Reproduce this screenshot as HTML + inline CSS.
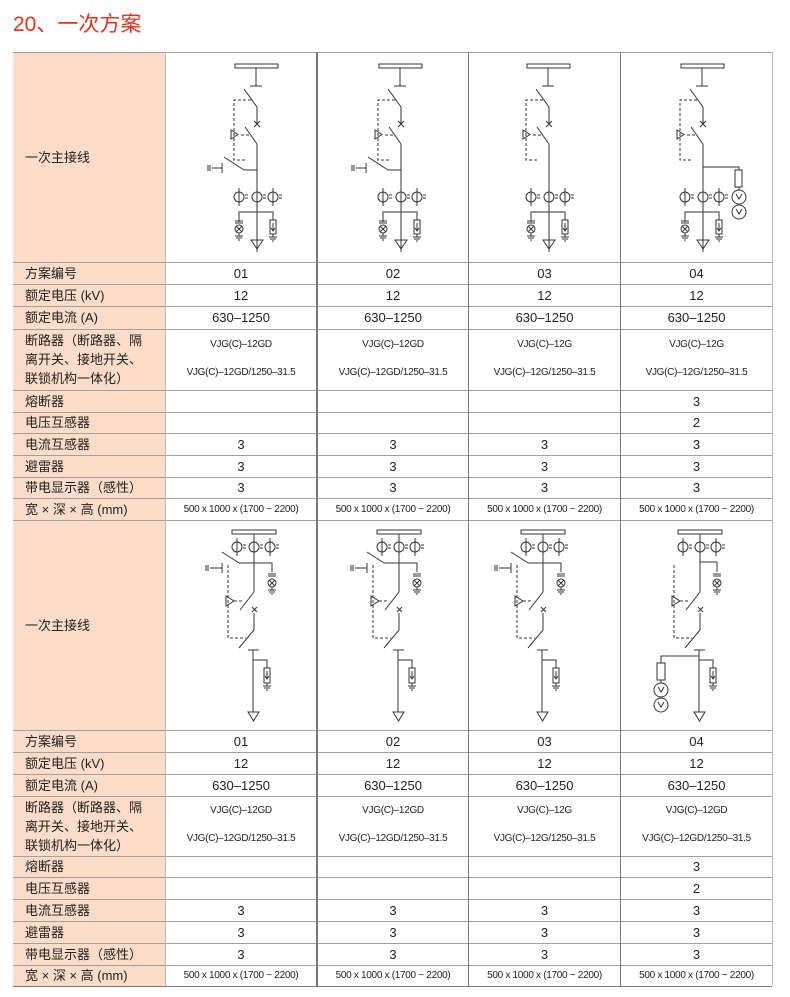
<!DOCTYPE html>
<html><head><meta charset="utf-8"><style>
body{margin:0;width:790px;height:997px;background:#fff;position:relative;overflow:hidden;font-family:"Liberation Sans","Noto Sans CJK SC",sans-serif;color:#222}
.t{position:absolute;left:13px;top:8px;font-size:21px;color:#e0321c;font-family:"Liberation Sans","Noto Sans CJK SC",sans-serif}
.lc{position:absolute;left:13px;width:152px;background:#fbdcc8}
.c{position:absolute;font-size:13px;display:flex;align-items:center;justify-content:center;text-align:center}
.l{position:absolute;left:25px;font-size:13px;display:flex;align-items:center;line-height:19px}
.h{position:absolute;left:13px;width:759px;height:1px;background:#a0a0a0}
.hw{position:absolute;left:13px;width:152px;height:1px;background:#fff}
.v{position:absolute;width:1px;background:#777}
.s{font-size:10px;letter-spacing:-0.3px}
</style></head><body>
<div class="t">20、一次方案</div>
<div class="lc" style="top:53px;height:933px"></div>
<svg width="790" height="997" style="position:absolute;left:0;top:0" fill="none" stroke="#333" stroke-width="1">
<defs>
<g id="top">
<rect x="-21" y="12" width="43" height="4" fill="#fff"/>
<line x1="0" y1="16" x2="0" y2="34"/><line x1="-6" y1="34" x2="6" y2="34"/>
<line x1="-12" y1="37" x2="1" y2="55"/><line x1="1" y1="55" x2="1" y2="72"/>
<path d="M-2 69l6 6M4 69l-6 6"/>
<line x1="-11" y1="75" x2="1" y2="92"/><line x1="1" y1="92" x2="1" y2="200"/>
<circle cx="-17" cy="145" r="5"/><circle cx="1" cy="145" r="5"/><circle cx="17" cy="145" r="5"/>
<line x1="-17" y1="136" x2="-17" y2="154"/><line x1="17" y1="136" x2="17" y2="154"/>
<path d="M-11 143h3M-11 146h3M7 143h3M7 146h3M23 143h3M23 146h3"/>
<path d="M-17 170v-10h34v8"/>
<line x1="-21" y1="169" x2="-13" y2="169"/><line x1="-21" y1="171" x2="-13" y2="171"/>
<circle cx="-17" cy="177" r="4"/><path d="M-20 174l6 6M-14 174l-6 6M-17 181v3M-21 184h8M-20 186h6M-18 188h2"/>
<rect x="14" y="168" width="6" height="14"/><path d="M17 171v8M15 176l2 3 2-3M17 182v3M13 185h8M14 187h6M16 189h2"/>
<path d="M-5 188h12l-6 9z"/>
</g>
<g id="dash" stroke-dasharray="3 2">
<path d="M-5 48h-17v60h12M-15 83h9"/>
</g>
<g id="tri"><path d="M-25 78v9l7-4.5z"/></g>
<g id="es">
<line x1="-32" y1="105" x2="-12" y2="118"/><line x1="-12" y1="118" x2="1" y2="118"/>
<path d="M-48 113v6M-46 113v6M-44 116h10M-34 111v10"/>
</g>
<g id="bot">
<rect x="-22" y="10" width="44" height="4" fill="#fff"/>
<line x1="0" y1="14" x2="0" y2="72"/>
<circle cx="-17" cy="27" r="5"/><circle cx="0" cy="27" r="5"/><circle cx="16" cy="27" r="5"/>
<line x1="-17" y1="18" x2="-17" y2="36"/><line x1="16" y1="18" x2="16" y2="36"/>
<path d="M-11 25h3M-11 28h3M6 25h3M6 28h3M22 25h3M22 28h3"/>
<line x1="0" y1="72" x2="-14" y2="90"/>
<path d="M-2 87l5 5M3 87l-5 5"/>
<line x1="0" y1="93" x2="0" y2="110"/><line x1="0" y1="110" x2="-15" y2="128"/>
<path d="M-6 130h11M-1 130v62"/>
<path d="M-1 140h14v8"/><rect x="10" y="148" width="6" height="15"/><path d="M13 151v8M11 156l2 3 2-3M13 163v3M9 166h8M10 168h6M12 170h2"/>
<path d="M-6 192h11l-5.5 9z"/>
<path d="M-10 140" />
<g stroke-dasharray="3 2"><path d="M-26 45v73h18M-20 81h10"/></g>
<path d="M-28 76v10l8-5z"/>
</g>
<g id="bes">
<line x1="-32" y1="32" x2="-15" y2="43"/><path d="M-15 43h33v9"/>
<path d="M14 54h8M14 56h8"/><circle cx="18" cy="63" r="4"/><path d="M15 60l6 6M21 60l-6 6M18 67v3M14 70h8M15 72h6M17 74h2"/>
<path d="M-48 45v6M-46 45v6M-44 48h12M-32 43v10"/>
</g>
</defs>
<!-- top diagrams -->
<g transform="translate(256,52)"><use href="#top"/><use href="#dash"/><use href="#tri"/><use href="#es"/></g>
<g transform="translate(400,52)"><use href="#top"/><use href="#dash"/><use href="#tri"/><use href="#es"/></g>
<g transform="translate(548,52)"><use href="#top"/><use href="#dash"/><use href="#tri"/></g>
<g transform="translate(702,52)"><use href="#top"/><use href="#dash"/><use href="#tri"/>
<path d="M1 115h36v3"/><rect x="33" y="118" width="7" height="17"/><line x1="37" y1="135" x2="37" y2="138"/>
<circle cx="37" cy="145" r="7"/><circle cx="37" cy="160" r="7"/><path d="M34 142l3 5 3-5M34 157l3 5 3-5"/></g>
<!-- bottom diagrams -->
<g transform="translate(254,520)"><use href="#bot"/><use href="#bes"/></g>
<g transform="translate(399,520)"><use href="#bot"/><use href="#bes"/></g>
<g transform="translate(543,520)"><use href="#bot"/><use href="#bes"/></g>
<g transform="translate(700,520)"><use href="#bot"/>
<path d="M0 42h17v10"/><path d="M13 54h8M13 56h8"/><circle cx="17" cy="63" r="4"/><path d="M14 60l6 6M20 60l-6 6M17 67v3M13 70h8M14 72h6M16 74h2"/>
<path d="M-1 136h-38v7"/><rect x="-43" y="143" width="8" height="17"/><line x1="-39" y1="160" x2="-39" y2="163"/>
<circle cx="-39" cy="170" r="7"/><circle cx="-39" cy="185" r="7"/><path d="M-42 167l3 5 3-5M-42 182l3 5 3-5"/></g>
</svg>
<!-- grid lines -->
<div class="h" style="top:52px"></div>
<div class="h" style="top:262px"></div><div class="h" style="top:284px"></div><div class="h" style="top:306px"></div><div class="h" style="top:329px"></div><div class="h" style="top:390px"></div><div class="h" style="top:412px"></div><div class="h" style="top:433px"></div><div class="h" style="top:455px"></div><div class="h" style="top:477px"></div><div class="h" style="top:498px"></div><div class="h" style="top:520px"></div>
<div class="h" style="top:730px"></div><div class="h" style="top:752px"></div><div class="h" style="top:774px"></div><div class="h" style="top:796px"></div><div class="h" style="top:856px"></div><div class="h" style="top:877px"></div><div class="h" style="top:899px"></div><div class="h" style="top:921px"></div><div class="h" style="top:943px"></div><div class="h" style="top:965px"></div><div class="h" style="top:986px;background:#777"></div>
<div class="v" style="left:165px;top:52px;height:934px;background:#bbb"></div>
<div class="v" style="left:316px;top:52px;height:934px;width:2px"></div>
<div class="v" style="left:468px;top:52px;height:934px"></div>
<div class="v" style="left:620px;top:52px;height:934px"></div>
<div class="v" style="left:772px;top:52px;height:934px;background:#bbb"></div>

<div id="rows"></div>
<!-- top table text -->
<div class="l" style="top:52px;height:210px">一次主接线</div>
<div class="l" style="top:262px;height:22px">方案编号</div>
<div class="l" style="top:284px;height:22px">额定电压 (kV)</div>
<div class="l" style="top:306px;height:23px">额定电流 (A)</div>
<div class="l" style="top:329px;height:61px">断路器（断路器、隔<br>离开关、接地开关、<br>联锁机构一体化）</div>
<div class="l" style="top:390px;height:22px">熔断器</div>
<div class="l" style="top:412px;height:21px">电压互感器</div>
<div class="l" style="top:433px;height:22px">电流互感器</div>
<div class="l" style="top:455px;height:22px">避雷器</div>
<div class="l" style="top:477px;height:21px">带电显示器（感性）</div>
<div class="l" style="top:498px;height:22px">宽 × 深 × 高 (mm)</div>

<div class="l" style="top:520px;height:210px">一次主接线</div>
<div class="l" style="top:730px;height:22px">方案编号</div>
<div class="l" style="top:752px;height:22px">额定电压 (kV)</div>
<div class="l" style="top:774px;height:22px">额定电流 (A)</div>
<div class="l" style="top:796px;height:60px">断路器（断路器、隔<br>离开关、接地开关、<br>联锁机构一体化）</div>
<div class="l" style="top:856px;height:21px">熔断器</div>
<div class="l" style="top:877px;height:22px">电压互感器</div>
<div class="l" style="top:899px;height:22px">电流互感器</div>
<div class="l" style="top:921px;height:22px">避雷器</div>
<div class="l" style="top:943px;height:22px">带电显示器（感性）</div>
<div class="l" style="top:965px;height:21px">宽 × 深 × 高 (mm)</div>

<!-- values -->
<div style="position:absolute;left:0;top:0">
<div class="c" style="left:166px;width:150px;top:262px;height:22px">01</div>
<div class="c" style="left:318px;width:150px;top:262px;height:22px">02</div>
<div class="c" style="left:469px;width:151px;top:262px;height:22px">03</div>
<div class="c" style="left:621px;width:151px;top:262px;height:22px">04</div>
</div>
<div class="c" style="left:166px;width:150px;top:284px;height:22px">12</div><div class="c" style="left:318px;width:150px;top:284px;height:22px">12</div><div class="c" style="left:469px;width:151px;top:284px;height:22px">12</div><div class="c" style="left:621px;width:151px;top:284px;height:22px">12</div>
<div class="c" style="left:166px;width:150px;top:306px;height:23px">630–1250</div><div class="c" style="left:318px;width:150px;top:306px;height:23px">630–1250</div><div class="c" style="left:469px;width:151px;top:306px;height:23px">630–1250</div><div class="c" style="left:621px;width:151px;top:306px;height:23px">630–1250</div>
<div class="c s" style="left:166px;width:150px;top:335px;height:18px">VJG(C)–12GD</div><div class="c s" style="left:318px;width:150px;top:335px;height:18px">VJG(C)–12GD</div><div class="c s" style="left:469px;width:151px;top:335px;height:18px">VJG(C)–12G</div><div class="c s" style="left:621px;width:151px;top:335px;height:18px">VJG(C)–12G</div>
<div class="c s" style="left:166px;width:150px;top:363px;height:18px">VJG(C)–12GD/1250–31.5</div><div class="c s" style="left:318px;width:150px;top:363px;height:18px">VJG(C)–12GD/1250–31.5</div><div class="c s" style="left:469px;width:151px;top:363px;height:18px">VJG(C)–12G/1250–31.5</div><div class="c s" style="left:621px;width:151px;top:363px;height:18px">VJG(C)–12G/1250–31.5</div>
<div class="c" style="left:621px;width:151px;top:390px;height:22px">3</div>
<div class="c" style="left:621px;width:151px;top:412px;height:21px">2</div>
<div class="c" style="left:166px;width:150px;top:433px;height:22px">3</div><div class="c" style="left:318px;width:150px;top:433px;height:22px">3</div><div class="c" style="left:469px;width:151px;top:433px;height:22px">3</div><div class="c" style="left:621px;width:151px;top:433px;height:22px">3</div>
<div class="c" style="left:166px;width:150px;top:455px;height:22px">3</div><div class="c" style="left:318px;width:150px;top:455px;height:22px">3</div><div class="c" style="left:469px;width:151px;top:455px;height:22px">3</div><div class="c" style="left:621px;width:151px;top:455px;height:22px">3</div>
<div class="c" style="left:166px;width:150px;top:477px;height:21px">3</div><div class="c" style="left:318px;width:150px;top:477px;height:21px">3</div><div class="c" style="left:469px;width:151px;top:477px;height:21px">3</div><div class="c" style="left:621px;width:151px;top:477px;height:21px">3</div>
<div class="c s" style="left:166px;width:150px;top:498px;height:22px">500 x 1000 x (1700 ~ 2200)</div><div class="c s" style="left:318px;width:150px;top:498px;height:22px">500 x 1000 x (1700 ~ 2200)</div><div class="c s" style="left:469px;width:151px;top:498px;height:22px">500 x 1000 x (1700 ~ 2200)</div><div class="c s" style="left:621px;width:151px;top:498px;height:22px">500 x 1000 x (1700 ~ 2200)</div>

<div class="c" style="left:166px;width:150px;top:730px;height:22px">01</div><div class="c" style="left:318px;width:150px;top:730px;height:22px">02</div><div class="c" style="left:469px;width:151px;top:730px;height:22px">03</div><div class="c" style="left:621px;width:151px;top:730px;height:22px">04</div>
<div class="c" style="left:166px;width:150px;top:752px;height:22px">12</div><div class="c" style="left:318px;width:150px;top:752px;height:22px">12</div><div class="c" style="left:469px;width:151px;top:752px;height:22px">12</div><div class="c" style="left:621px;width:151px;top:752px;height:22px">12</div>
<div class="c" style="left:166px;width:150px;top:774px;height:22px">630–1250</div><div class="c" style="left:318px;width:150px;top:774px;height:22px">630–1250</div><div class="c" style="left:469px;width:151px;top:774px;height:22px">630–1250</div><div class="c" style="left:621px;width:151px;top:774px;height:22px">630–1250</div>
<div class="c s" style="left:166px;width:150px;top:801px;height:18px">VJG(C)–12GD</div><div class="c s" style="left:318px;width:150px;top:801px;height:18px">VJG(C)–12GD</div><div class="c s" style="left:469px;width:151px;top:801px;height:18px">VJG(C)–12G</div><div class="c s" style="left:621px;width:151px;top:801px;height:18px">VJG(C)–12GD</div>
<div class="c s" style="left:166px;width:150px;top:829px;height:18px">VJG(C)–12GD/1250–31.5</div><div class="c s" style="left:318px;width:150px;top:829px;height:18px">VJG(C)–12GD/1250–31.5</div><div class="c s" style="left:469px;width:151px;top:829px;height:18px">VJG(C)–12G/1250–31.5</div><div class="c s" style="left:621px;width:151px;top:829px;height:18px">VJG(C)–12GD/1250–31.5</div>
<div class="c" style="left:621px;width:151px;top:856px;height:21px">3</div>
<div class="c" style="left:621px;width:151px;top:877px;height:22px">2</div>
<div class="c" style="left:166px;width:150px;top:899px;height:22px">3</div><div class="c" style="left:318px;width:150px;top:899px;height:22px">3</div><div class="c" style="left:469px;width:151px;top:899px;height:22px">3</div><div class="c" style="left:621px;width:151px;top:899px;height:22px">3</div>
<div class="c" style="left:166px;width:150px;top:921px;height:22px">3</div><div class="c" style="left:318px;width:150px;top:921px;height:22px">3</div><div class="c" style="left:469px;width:151px;top:921px;height:22px">3</div><div class="c" style="left:621px;width:151px;top:921px;height:22px">3</div>
<div class="c" style="left:166px;width:150px;top:943px;height:22px">3</div><div class="c" style="left:318px;width:150px;top:943px;height:22px">3</div><div class="c" style="left:469px;width:151px;top:943px;height:22px">3</div><div class="c" style="left:621px;width:151px;top:943px;height:22px">3</div>
<div class="c s" style="left:166px;width:150px;top:965px;height:21px">500 x 1000 x (1700 ~ 2200)</div><div class="c s" style="left:318px;width:150px;top:965px;height:21px">500 x 1000 x (1700 ~ 2200)</div><div class="c s" style="left:469px;width:151px;top:965px;height:21px">500 x 1000 x (1700 ~ 2200)</div><div class="c s" style="left:621px;width:151px;top:965px;height:21px">500 x 1000 x (1700 ~ 2200)</div>
</body></html>
